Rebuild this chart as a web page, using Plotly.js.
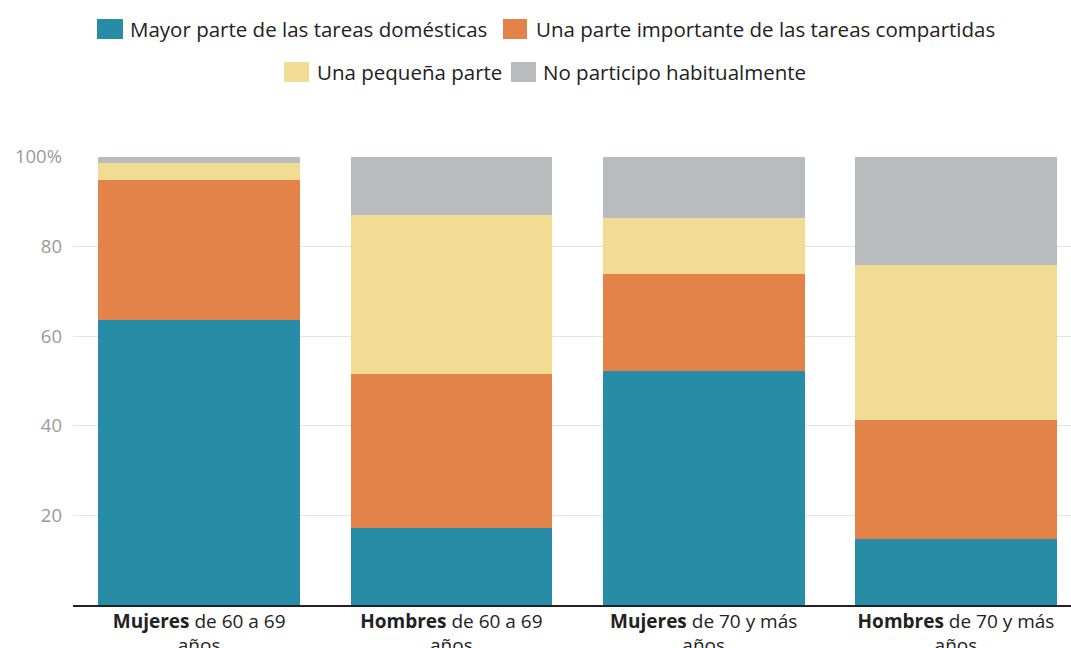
<!DOCTYPE html>
<html><head><meta charset="utf-8">
<script src="https://cdn.plot.ly/plotly-3.0.1.min.js"></script>
<style>html,body{margin:0;padding:0;background:#fff;overflow:hidden}</style>
</head><body>
<div id="chart" style="width:1071px;height:648px"></div>
<script>
const categories = ["Mujeres de 60 a 69 años", "Hombres de 60 a 69 años", "Mujeres de 70 y más años", "Hombres de 70 y más años"];
const tickLabels = ["<b>Mujeres</b> de 60 a 69<br>años", "<b>Hombres</b> de 60 a 69<br>años", "<b>Mujeres</b> de 70 y más<br>años", "<b>Hombres</b> de 70 y más<br>años"];
const seriesNames = ["Mayor parte de las tareas domésticas", "Una parte importante de las tareas compartidas", "Una pequeña parte", "No participo habitualmente"];
const mayorParte = [63.6, 17.2, 52.2, 14.7];
const parteImportante = [31.3, 34.4, 21.7, 26.6];
const pequenaParte = [3.8, 35.5, 12.5, 34.6];
const noParticipo = [1.3, 12.9, 13.6, 24.1];
const colors = ["#278ca6", "#e3834a", "#f2dc94", "#b9bcbd"];
const yTickVals = [20, 40, 60, 80, 100];
const yTickText = ["20", "40", "60", "80", "100%"];

const values = [mayorParte, parteImportante, pequenaParte, noParticipo];
const traces = values.map((v, i) => ({
  type: "bar", x: categories, y: v, name: seriesNames[i],
  marker: {color: colors[i], line: {width: 0}},
  showlegend: false, hoverinfo: "skip"
}));

// plot-area geometry (pixels)
const M = {l: 73, r: 0, t: 157, b: 43};
const W = 1071, H = 648;
const pw = W - M.l - M.r, ph = H - M.t - M.b;
const px = x => (x - M.l) / pw;
const py = y => (H - M.b - y) / ph;

// custom legend: two centered rows
const legendItems = [
  {swatch: [97, 123], text: 130, cy: 29},
  {swatch: [503, 527], text: 536, cy: 29},
  {swatch: [284, 309], text: 317, cy: 72},
  {swatch: [511, 536], text: 543, cy: 72}
];
const shapes = legendItems.map((it, i) => ({
  type: "rect", xref: "paper", yref: "paper", layer: "above",
  x0: px(it.swatch[0]), x1: px(it.swatch[1]), y0: py(it.cy + 10), y1: py(it.cy - 10),
  fillcolor: colors[i], line: {width: 0}
}));
const annotations = legendItems.map((it, i) => ({
  xref: "paper", yref: "paper", x: px(it.text - 2), y: py(it.cy),
  xanchor: "left", yanchor: "middle", showarrow: false,
  text: seriesNames[i],
  font: {family: "Open Sans, sans-serif", size: 20.5, color: "#222"}
}));

const layout = {
  width: W, height: H, margin: M,
  paper_bgcolor: "#fff", plot_bgcolor: "#fff",
  barmode: "stack", bargap: 0.2, showlegend: false,
  shapes: shapes, annotations: annotations,
  xaxis: {
    type: "category", range: [-0.5, 3.456],
    tickvals: categories, ticktext: tickLabels,
    tickfont: {family: "Open Sans, sans-serif", size: 19, color: "#222"},
    showline: true, linecolor: "#222", linewidth: 1.5,
    ticks: "", showgrid: false, fixedrange: true, ticklabelstandoff: -2
  },
  yaxis: {
    range: [0, 100], tickvals: yTickVals, ticktext: yTickText,
    tickfont: {family: "Open Sans, sans-serif", size: 18.5, color: "#9a9a9a"},
    showgrid: true, gridcolor: "#e3e3e3", gridwidth: 1,
    zeroline: false, ticks: "", ticklabelstandoff: 10, fixedrange: true
  }
};

Plotly.newPlot("chart", traces, layout, {displayModeBar: false});
</script>
</body></html>
